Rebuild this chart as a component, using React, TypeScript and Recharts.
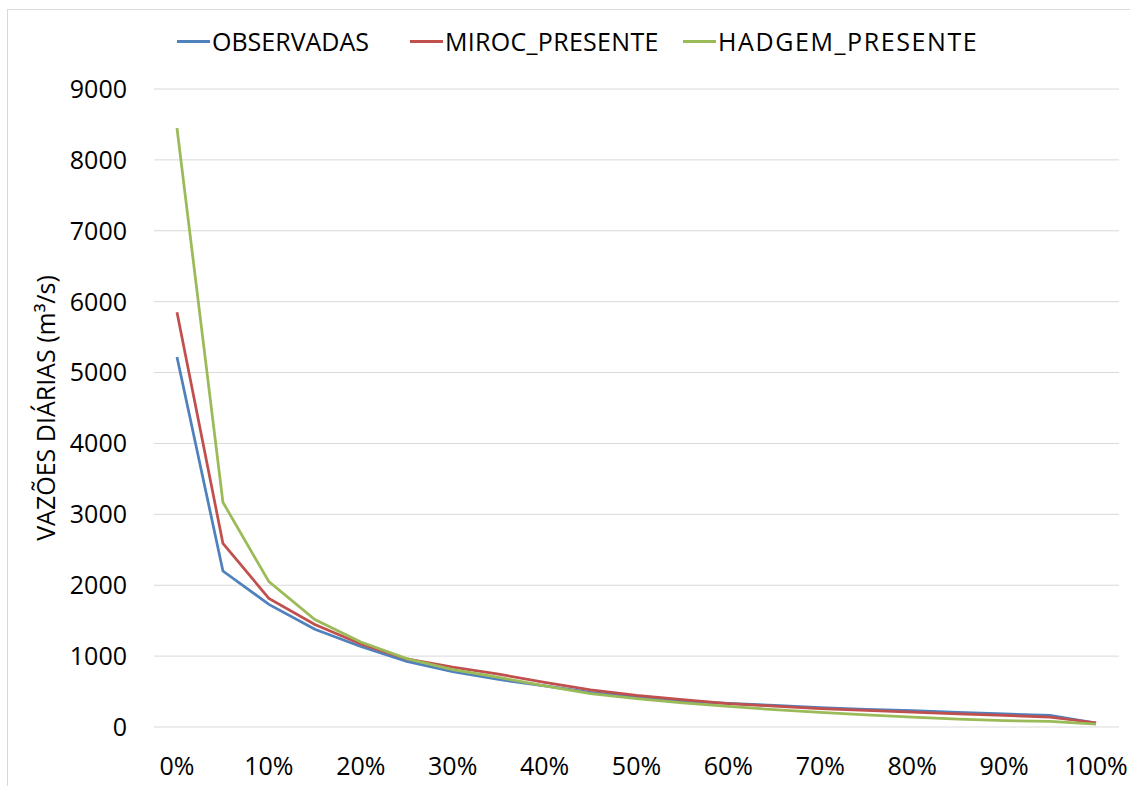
import React from 'react'
import { LineChart, Line, XAxis, YAxis, CartesianGrid } from 'recharts'

const percentis = [0, 5, 10, 15, 20, 25, 30, 35, 40, 45, 50, 55, 60, 65, 70, 75, 80, 85, 90, 95, 100]
const observadas = [5220, 2200, 1730, 1380, 1135, 925, 780, 670, 580, 490, 420, 360, 335, 305, 275, 250, 230, 205, 185, 165, 55]
const mirocPresente = [5850, 2590, 1815, 1445, 1170, 960, 845, 745, 630, 525, 445, 385, 330, 295, 260, 235, 210, 185, 165, 140, 60]
const hadgemPresente = [8450, 3170, 2050, 1515, 1200, 965, 810, 700, 580, 470, 400, 340, 290, 245, 205, 170, 140, 110, 90, 80, 40]
const xTicks = [0, 10, 20, 30, 40, 50, 60, 70, 80, 90, 100]
const yTicks = [0, 1000, 2000, 3000, 4000, 5000, 6000, 7000, 8000, 9000]

const series = [
  { key: 'obs', name: 'OBSERVADAS', color: '#4F81BD', values: observadas, left: 177, spacing: 0 },
  { key: 'miroc', name: 'MIROC_PRESENTE', color: '#C0504D', values: mirocPresente, left: 410, spacing: 0.3 },
  { key: 'hadgem', name: 'HADGEM_PRESENTE', color: '#9BBB59', values: hadgemPresente, left: 683, spacing: 1.6 },
]

const data = percentis.map((p, i) => ({
  p,
  obs: observadas[i],
  miroc: mirocPresente[i],
  hadgem: hadgemPresente[i],
}))

const font = '"Open Sans", sans-serif'
const tickStyle = { fill: '#000', fontSize: 25, fontFamily: font }

export default function App() {
  return (
    <div style={{ position: 'fixed', left: 0, top: 0, width: 1130, height: 786, overflow: 'hidden', background: '#fff' }}>
      <style>{`html,body{margin:0;overflow:hidden;}`}</style>
      <div style={{ position: 'absolute', left: 7, top: 9, width: 1140, height: 800, border: '1px solid #d9d9d9' }} />

      {/* legend */}
      {series.map((s) => (
        <div
          key={s.key}
          style={{
            position: 'absolute',
            top: 24,
            left: s.left,
            display: 'flex',
            alignItems: 'center',
            fontFamily: font,
            fontSize: 25,
            lineHeight: '34px',
            color: '#000',
            whiteSpace: 'nowrap',
            letterSpacing: s.spacing,
          }}
        >
          <span style={{ display: 'inline-block', width: 33, height: 3, background: s.color, marginRight: 2 }} />
          <span>{s.name}</span>
        </div>
      ))}

      <div style={{ position: 'absolute', left: 0, top: 0 }}>
        <LineChart width={1130} height={786} data={data} margin={{ top: 89, right: 11, bottom: 19, left: 54 }}>
          <CartesianGrid vertical={false} stroke="#d9d9d9" strokeWidth={1} />
          <XAxis
            dataKey="p"
            type="number"
            domain={[-2.5, 102.5]}
            ticks={xTicks}
            tickFormatter={(v) => `${v}%`}
            axisLine={false}
            tickLine={false}
            tickSize={0}
            tickMargin={30}
            height={40}
            interval={0}
            tick={tickStyle}
          />
          <YAxis
            domain={[0, 9000]}
            ticks={yTicks}
            axisLine={false}
            tickLine={false}
            tickSize={0}
            tickMargin={27}
            width={100}
            interval={0}
            tick={tickStyle}
            label={{
              value: 'VAZÕES DIÁRIAS (m³/s)',
              angle: -90,
              position: 'insideLeft',
              offset: -8,
              style: { fill: '#000', fontSize: 25, fontFamily: font, textAnchor: 'middle' },
            }}
          />
          {series.map((s) => (
            <Line
              key={s.key}
              type="linear"
              dataKey={s.key}
              name={s.name}
              stroke={s.color}
              strokeWidth={2.75}
              dot={false}
              isAnimationActive={false}
            />
          ))}
        </LineChart>
      </div>
    </div>
  )
}
